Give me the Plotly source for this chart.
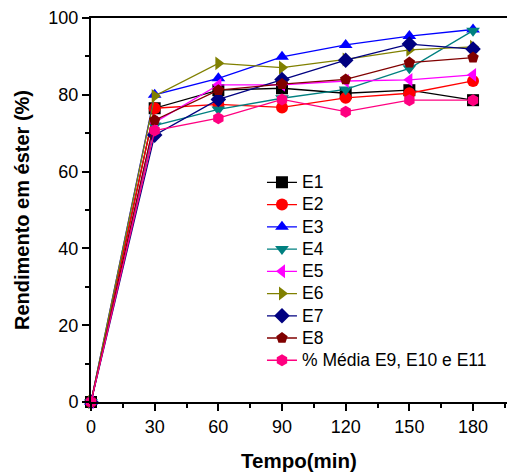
import plotly.graph_objects as go

tempo = [0, 30, 60, 90, 120, 150, 180]
E1 = [0, 76.5, 81.2, 81.7, 80.4, 81.2, 78.6]
E2 = [0, 76.5, 77.5, 76.7, 79.2, 80.4, 83.6]
E3 = [0, 80.0, 84.3, 89.9, 93.0, 95.3, 97.0]
E4 = [0, 72.0, 76.2, 79.1, 81.4, 86.9, 96.7]
E5 = [0, 72.8, 82.6, 82.6, 83.6, 83.9, 85.2]
E6 = [0, 79.7, 88.2, 87.1, 89.2, 91.7, 92.5]
E7 = [0, 69.5, 78.8, 84.0, 89.0, 93.2, 91.9]
E8 = [0, 73.4, 81.2, 82.8, 84.0, 88.4, 89.7]
E9 = [0, 70.7, 73.9, 78.8, 75.6, 78.6, 78.6]

series = [
    ("E1", E1, "#000000", "square"),
    ("E2", E2, "#FF0000", "circle"),
    ("E3", E3, "#0000FF", "triangle-up"),
    ("E4", E4, "#008080", "triangle-down"),
    ("E5", E5, "#FF00FF", "triangle-left"),
    ("E6", E6, "#808000", "triangle-right"),
    ("E7", E7, "#000080", "diamond"),
    ("E8", E8, "#800000", "pentagon"),
    ("% Média E9, E10 e E11", E9, "#FF0080", "hexagon"),
]

fig = go.Figure()
for name, ys, color, sym in series:
    fig.add_trace(go.Scatter(
        x=tempo, y=ys, name="<span style='font-size:17.5px'>" + name + "</span>",
        mode="lines+markers",
        line=dict(color=color, width=1.3),
        marker=dict(symbol=sym, size=12, color=color, line=dict(width=0)),
        cliponaxis=False,
    ))

font = "Liberation Sans, Arial, sans-serif"
fig.update_layout(
    width=507, height=472,
    margin=dict(l=91, r=0, t=18, b=70),
    plot_bgcolor="white", paper_bgcolor="white",
    font=dict(family=font, size=18, color="black"),
    showlegend=True,
    legend=dict(x=0.411, y=0.614, xanchor="left", yanchor="top",
                bgcolor="rgba(0,0,0,0)", font=dict(size=14.8),
                tracegroupgap=0, itemwidth=30),
    xaxis=dict(
        range=[0, 196], tickmode="array", tickvals=[0, 30, 60, 90, 120, 150, 180],
        showline=True, linecolor="black", linewidth=2, mirror=True,
        ticks="outside", ticklen=7, tickwidth=1.5, tickcolor="black",
        minor=dict(tickvals=[15, 45, 75, 105, 135, 165, 195], ticks="outside", ticklen=4, tickwidth=1.5, tickcolor="black"),
        showgrid=False, zeroline=False,
        title=dict(text="<b>Tempo(min)</b>", font=dict(size=20.5), standoff=21),
        tickfont=dict(size=18),
    ),
    yaxis=dict(
        range=[0, 100], tickmode="array", tickvals=[0, 20, 40, 60, 80, 100],
        showline=True, linecolor="black", linewidth=2, mirror=False,
        ticks="outside", ticklen=7, tickwidth=1.5, tickcolor="black",
        minor=dict(tickvals=[10, 30, 50, 70, 90], ticks="outside", ticklen=4, tickwidth=1.5, tickcolor="black"),
        showgrid=False, zeroline=False,
        title=dict(text="<b>Rendimento em éster (%)</b>", font=dict(size=20), standoff=13),
        tickfont=dict(size=18),
    ),
)

fig.write_html("out.html")
